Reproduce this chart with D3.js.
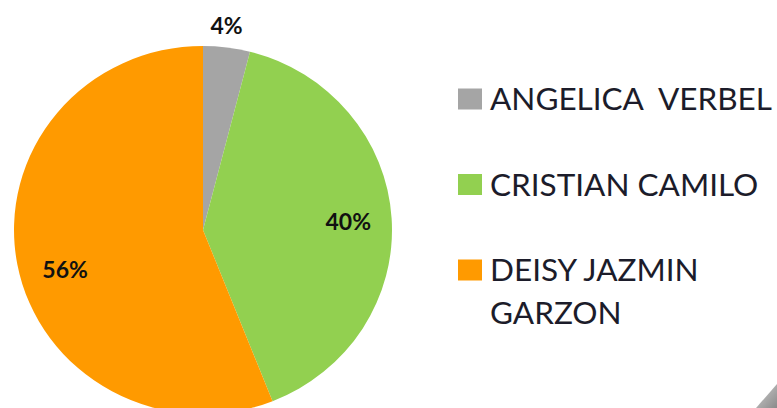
<!DOCTYPE html>
<html>
<head>
<meta charset="utf-8">
<script src="https://cdn.jsdelivr.net/npm/d3@7/dist/d3.min.js"></script>
<style>
  html, body { margin: 0; padding: 0; background: #fff; }
  svg { display: block; }
</style>
</head>
<body>
<svg id="chart" width="777" height="408"></svg>
<script>
// chart data
const names = ["ANGELICA  VERBEL", "CRISTIAN CAMILO", "DEISY JAZMIN GARZON"];
const legendLines = [["ANGELICA  VERBEL"], ["CRISTIAN CAMILO"], ["DEISY JAZMIN", "GARZON"]];
const shares = [4, 40, 56];
const colors = ["#a5a5a5", "#92d050", "#ff9a00"];

const width = 777, height = 408;
const cx = 203, cy = 230, radius = 189, squash = 0.974;

const svg = d3.select("#chart");

// faint slide corner in bottom right
const grad = svg.append("defs").append("linearGradient")
  .attr("id", "corner").attr("x1", 0).attr("y1", 0).attr("x2", 1).attr("y2", 1);
grad.append("stop").attr("offset", "0%").attr("stop-color", "#d0d0d0");
grad.append("stop").attr("offset", "100%").attr("stop-color", "#8a8a8a");
svg.append("path")
  .attr("d", `M${width},${height - 24} L${width - 21},${height} L${width},${height} Z`)
  .attr("fill", "url(#corner)");

const pie = d3.pie().sort(null).value(d => d);
const arcs = pie(shares);
const arc = d3.arc().innerRadius(0).outerRadius(radius);

const g = svg.append("g")
  .attr("transform", `translate(${cx},${cy}) scale(1,${squash})`);

g.selectAll("path.slice")
  .data(arcs)
  .join("path")
  .attr("class", "slice")
  .attr("d", arc)
  .attr("fill", (d, i) => colors[i]);

// data labels (Excel best-fit style placement)
const labelRadius = [1.12, 0.77, 0.76];
const labelShift = [-0.8, 0, -5.4];
svg.append("g").selectAll("text")
  .data(arcs)
  .join("text")
  .attr("transform", (d, i) => {
    const a = (d.startAngle + d.endAngle) / 2 + labelShift[i] * Math.PI / 180;
    const r = radius * labelRadius[i];
    return `translate(${cx + r * Math.sin(a)},${cy - r * Math.cos(a) * squash})`;
  })
  .attr("text-anchor", "middle")
  .attr("dominant-baseline", "central")
  .attr("font-family", "Lato, 'Open Sans', sans-serif")
  .attr("font-weight", 700)
  .attr("font-size", 23)
  .attr("fill", "#111")
  .text(d => d.data + "%");

// legend
const legendY = d3.scalePoint().domain(names).range([99, 270]);
const legend = svg.append("g");
const item = legend.selectAll("g")
  .data(names)
  .join("g")
  .attr("transform", d => `translate(458,${legendY(d)})`);

item.append("rect")
  .attr("x", 0).attr("y", -10.5)
  .attr("width", 24).attr("height", 21)
  .attr("fill", (d, i) => colors[i]);

item.append("text")
  .attr("x", 32)
  .attr("y", 11)
  .attr("font-family", "Lato, 'Open Sans', sans-serif")
  .attr("font-size", 31.5)
  .attr("fill", "#1c1c2a")
  .style("white-space", "pre")
  .selectAll("tspan")
  .data((d, i) => legendLines[i])
  .join("tspan")
  .attr("x", 32)
  .attr("dy", (d, j) => j === 0 ? 0 : 43)
  .text(d => d);
</script>
</body>
</html>
